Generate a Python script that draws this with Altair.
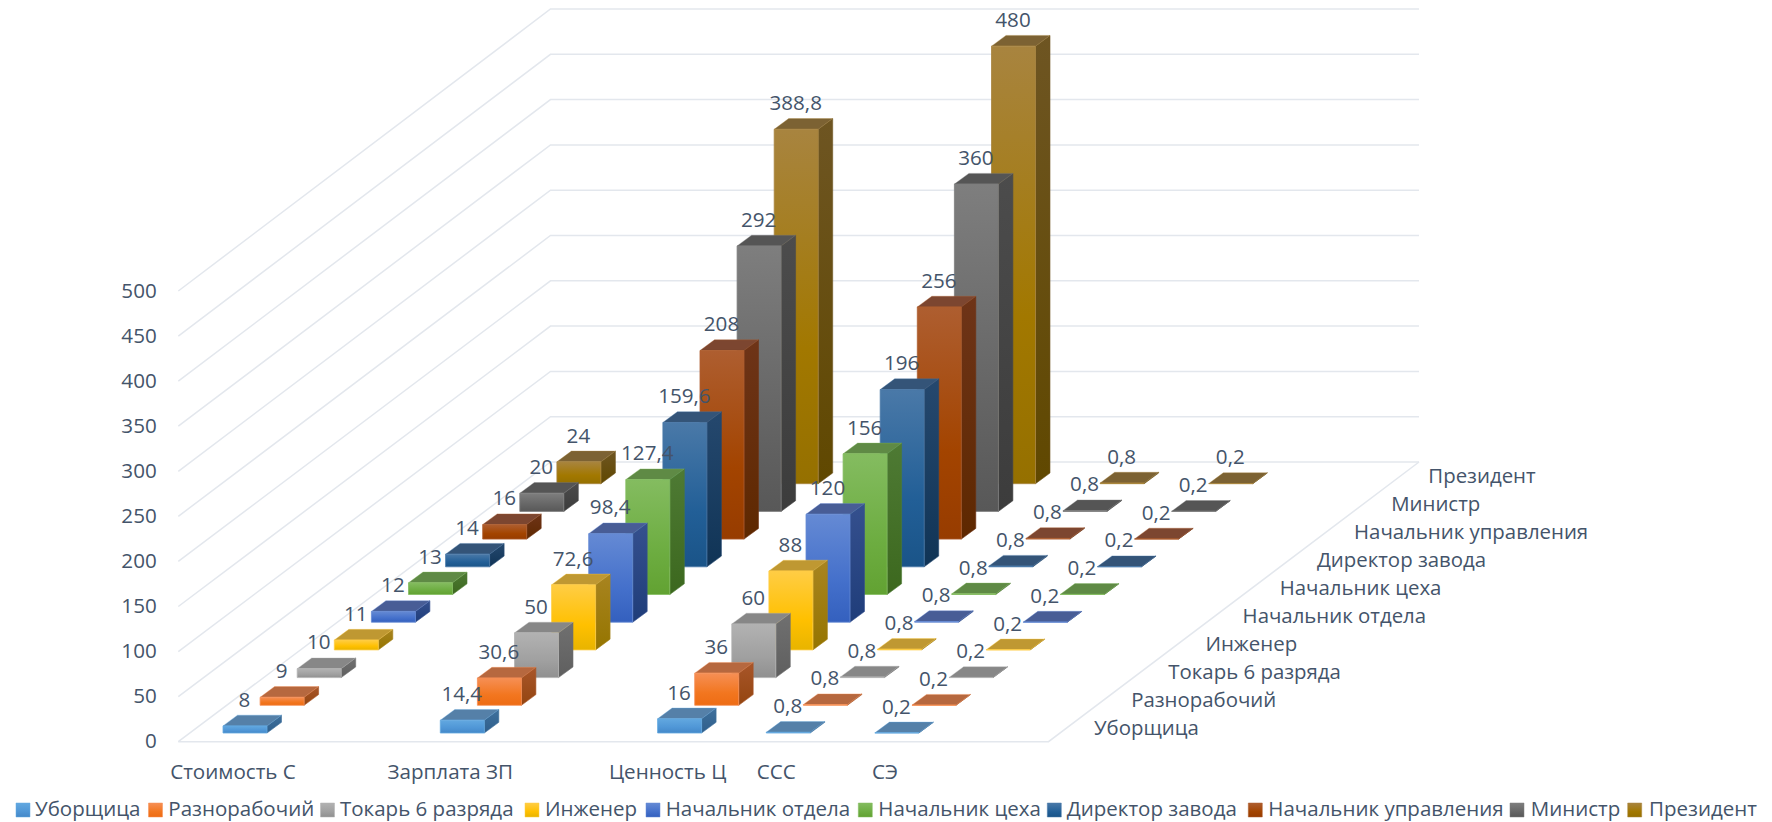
import altair as alt
import pandas as pd

categories = ["Стоимость С", "Зарплата ЗП", "Ценность Ц", "ССС", "СЭ"]
category_positions = [0, 1, 2, 2.5, 3]
series_names = ["Уборщица", "Разнорабочий", "Токарь 6 разряда", "Инженер", "Начальник отдела",
                "Начальник цеха", "Директор завода", "Начальник управления", "Министр", "Президент"]
cost = [8, 9, 10, 11, 12, 13, 14, 16, 20, 24]
salary = [14.4, 30.6, 50, 72.6, 98.4, 127.4, 159.6, 208, 292, 388.8]
worth = [16, 36, 60, 88, 120, 156, 196, 256, 360, 480]
sss = [0.8] * 10
se = [0.2] * 10
columns = [cost, salary, worth, sss, se]
y_ticks = [0, 50, 100, 150, 200, 250, 300, 350, 400, 450, 500]

front_light = ["#62A8E0", "#F68F55", "#B2B2B2", "#FFCD45", "#658AD4", "#84BC60", "#4A79A8", "#AE5E30", "#7E7E7E", "#A8843F"]
front_mid = ["#4F96D6", "#F2761F", "#A0A0A0", "#FFC000", "#4470CB", "#6DAD41", "#225F97", "#A34400", "#666666", "#A27800"]
front_dark = ["#4488C8", "#EE6C14", "#909090", "#E8B400", "#3460BE", "#62A232", "#1A5488", "#973C00", "#585858", "#957000"]
top_col = ["#5580A8", "#B6683F", "#878787", "#BF9832", "#485D96", "#5F8A45", "#345478", "#7C4630", "#555555", "#7C6233"]
side_top = ["#3F709C", "#A8562A", "#707070", "#A88420", "#35508E", "#4E7A34", "#25486E", "#6E3418", "#4C4C4C", "#6E5522"]
side_bot = ["#2F5F8C", "#944510", "#5F5F5F", "#957500", "#1F3D7A", "#3C681E", "#103456", "#5E2800", "#3C3C3C", "#604800"]

TEXT = "#44546A"
GRID = "#E3E7ED"
FONT = "Open Sans"
FS = 20.6

# oblique projection of the 3-D chart box onto the picture
X0, Y0 = 223.0, 733.0
CAT_STEP, SER_STEP_X, SER_STEP_Y = 217.3, 37.1, 27.7
BAR_W, DEPTH_X, DEPTH_Y = 44.0, 14.5, 10.7


def vscale(s):
    # slight perspective: the height of one unit grows towards the back of the box
    return 0.89 + 0.0024 * s


def poly(pts, pid):
    rows = []
    for i, (x, y) in enumerate(pts + pts[:1]):
        rows.append({"x": x, "y": y, "i": i, "pid": pid})
    return rows


def bar_faces(c, s, val):
    x = X0 + category_positions[c] * CAT_STEP + s * SER_STEP_X
    y = Y0 - s * SER_STEP_Y
    t = y - val * vscale(s)
    r = x + BAR_W
    front = [(x, t), (r, t), (r, y), (x, y)]
    side = [(r, t), (r + DEPTH_X, t - DEPTH_Y), (r + DEPTH_X, y - DEPTH_Y), (r, y)]
    top = [(x, t), (x + DEPTH_X, t - DEPTH_Y), (r + DEPTH_X, t - DEPTH_Y), (r, t)]
    return front, side, top


def grad(a, b, c=None):
    stops = [alt.GradientStop(color=a, offset=0)]
    if c:
        stops += [alt.GradientStop(color=b, offset=0.62), alt.GradientStop(color=c, offset=1)]
    else:
        stops += [alt.GradientStop(color=b, offset=1)]
    return alt.Gradient(gradient="linear", x1=0, y1=0, x2=0, y2=1, stops=stops)


x_scale = alt.Scale(domain=[8, 1764], range=[0, 1756], nice=False, zero=False)
y_scale = alt.Scale(domain=[8, 822], range=[0, 814], nice=False, zero=False)
X = alt.X("x:Q", scale=x_scale, axis=None)
Y = alt.Y("y:Q", scale=y_scale, axis=None)


def shapes(rows, **mark):
    return alt.Chart(pd.DataFrame(rows)).mark_line(**mark).encode(
        x=X, y=Y, detail="pid:N", order=alt.Order("i:Q"))


def texts(rows, align="center", size=FS):
    return alt.Chart(pd.DataFrame(rows)).mark_text(
        font=FONT, fontSize=size, color=TEXT, align=align, baseline="middle"
    ).encode(x=X, y=Y, text="t:N")


layers = []

# box: walls' gridlines and the floor
FL = (178.3, 741.7)
BL = (550.5, 462.0)
BR = (1419.0, 462.0)
FR = (1048.5, 741.7)
grid_rows = []
for v in y_ticks:
    grid_rows += [
        {"x": FL[0], "y": FL[1] - v * 0.9014, "i": 0, "pid": f"g{v}"},
        {"x": BL[0], "y": BL[1] - v * 0.906, "i": 1, "pid": f"g{v}"},
        {"x": BR[0], "y": BR[1] - v * 0.906, "i": 2, "pid": f"g{v}"},
    ]
grid_rows += [
    {"x": FL[0], "y": FL[1], "i": 0, "pid": "f"},
    {"x": FR[0], "y": FR[1], "i": 1, "pid": "f"},
    {"x": BR[0], "y": BR[1], "i": 2, "pid": "f"},
]
layers.append(shapes(grid_rows, stroke=GRID, strokeWidth=1.5))

# bars, back to front
for s in range(9, -1, -1):
    fr, si, to = [], [], []
    for c in range(5):
        f, d, t = bar_faces(c, s, columns[c][s])
        fr += poly(f, f"{c}-{s}-f")
        si += poly(d, f"{c}-{s}-s")
        to += poly(t, f"{c}-{s}-t")
    layers.append(shapes(si, fill=grad(side_top[s], side_bot[s]), stroke=side_top[s], strokeWidth=0.6))
    layers.append(shapes(to, fill=top_col[s], stroke=front_light[s], strokeWidth=0.6, strokeOpacity=0.6))
    layers.append(shapes(fr, fill=grad(front_light[s], front_mid[s], front_dark[s]), stroke=front_light[s],
                         strokeWidth=0.8))

# value labels
val_rows = []
for c in range(5):
    for s in range(10):
        val = columns[c][s]
        val_rows.append({
            "x": X0 + category_positions[c] * CAT_STEP + s * SER_STEP_X + BAR_W / 2 - 0.5,
            "y": Y0 - s * SER_STEP_Y - val * vscale(s) - 25.2,
            "t": f"{val:g}".replace(".", ","),
        })
layers.append(texts(val_rows))

# value axis
layers.append(texts([{"x": 156.7, "y": 742.3 - v * 0.9, "t": str(v)} for v in y_ticks], align="right"))
# category axis
layers.append(texts([{"x": X0 + category_positions[c] * CAT_STEP + 10, "y": 773, "t": categories[c]}
                     for c in range(5)]))
# series axis
layers.append(texts([{"x": 1094 + 37.15 * s, "y": 729 - 28.0 * s, "t": series_names[s]} for s in range(10)],
                    align="left", size=20.4))

# legend
legend_swatch = [16, 148.5, 320.5, 525, 646, 858.3, 1047.3, 1248.3, 1510, 1627.7]
legend_text = [35, 168.3, 340, 545, 665.7, 878.3, 1066.7, 1268.3, 1530.7, 1649]
for s in range(10):
    x = legend_swatch[s]
    sw = [(x, 803.0), (x + 14, 803.0), (x + 14, 817.0), (x, 817.0)]
    layers.append(shapes(poly(sw, f"l{s}"), fill=grad(front_light[s], front_mid[s], front_dark[s]),
                         stroke=front_light[s], strokeWidth=0.5))
layers.append(texts([{"x": legend_text[s], "y": 809.5, "t": series_names[s]} for s in range(10)], align="left", size=20.5))

chart = alt.layer(*layers).properties(
    width=1756, height=814, padding=0, autosize=alt.AutoSizeParams(type="none"),
    background="white",
).configure_view(stroke=None)

chart.save("out.html", embed_options={"renderer": "svg", "actions": False})
